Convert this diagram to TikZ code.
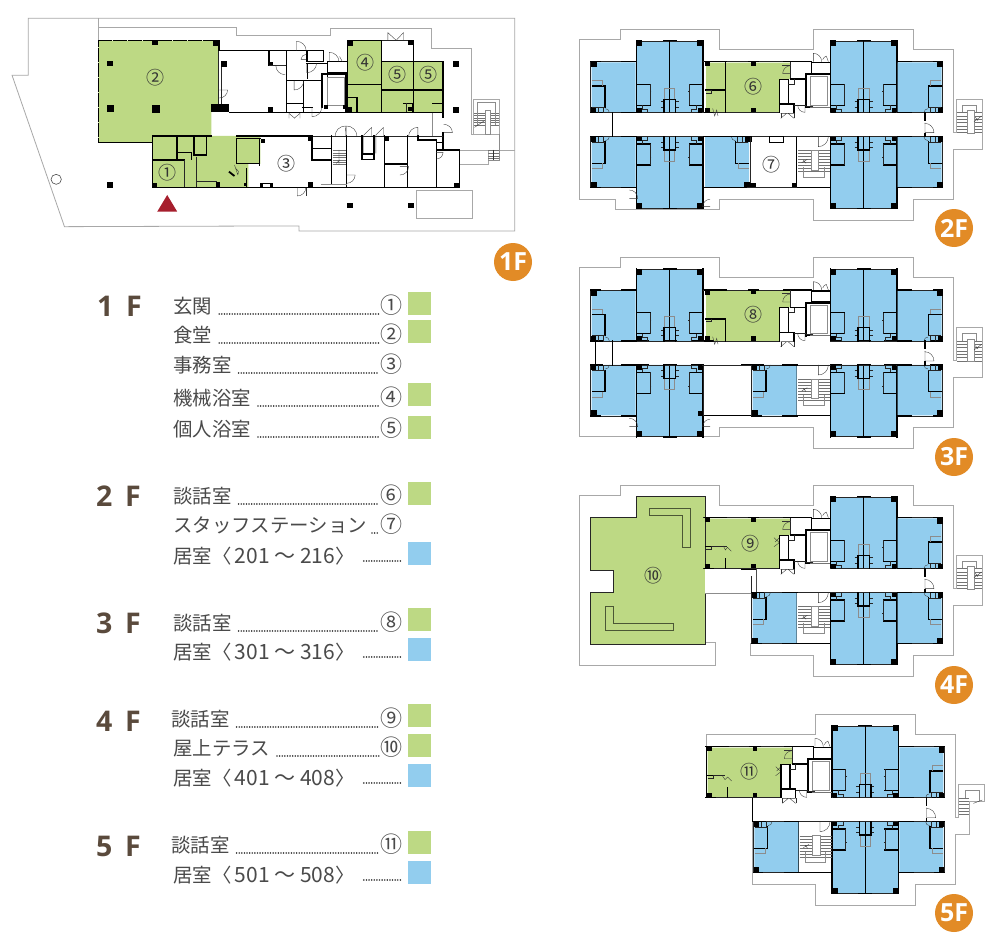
\documentclass[tikz,border=0pt]{standalone}
\usepackage{fontspec}
\newfontfamily\jp{Noto Sans CJK JP}
\newfontfamily\hd[WordSpace=1.7]{Open Sans}
\definecolor{gr}{HTML}{BDD984}
\definecolor{bl}{HTML}{92CDEE}
\definecolor{og}{HTML}{E28B26}
\definecolor{outl}{HTML}{A8A8A8}
\definecolor{brn}{HTML}{5A4A3C}
\definecolor{txt}{HTML}{4A4A4A}
\definecolor{entrymark}{HTML}{A61E2D}
\tikzset{
  wall/.style={line width=1.3pt,black,line cap=rect},
  wallb/.style={line width=1.9pt,black,line cap=rect},
  thinw/.style={line width=0.7pt,black!85},
  door/.style={line width=0.35pt,black!80},
  grayl/.style={line width=0.6pt,black!45},
  outline/.style={line width=0.8pt,outl},
  tread/.style={line width=0.35pt,black!55},
  lab/.style={font=\jp\fontsize{19.4}{22}\selectfont,text=txt,anchor=base west,inner sep=0pt},
  num/.style={font=\jp\fontsize{22}{24}\selectfont,text=txt,anchor=base,inner sep=0pt},
  pnum/.style={font=\jp\fontsize{18}{20}\selectfont,text=black!80,inner sep=0pt},
  hdg/.style={font=\hd\bfseries\fontsize{28.5}{30}\selectfont,text=brn,anchor=base west,inner sep=0pt},
  badge/.style={circle,fill=og,minimum size=38pt,inner sep=0pt,text=white,font=\hd\bfseries\fontsize{25}{27}\selectfont},
  swatchg/.style={fill=gr,minimum size=23pt,inner sep=0pt,anchor=north west},
  swatchb/.style={fill=bl,minimum size=23pt,inner sep=0pt,anchor=north west},
  leader/.style={line width=1.7pt,black!75,line cap=round,dash pattern=on 0.01pt off 2.6pt},
}
\newcommand\rng[2]{居室〈\hspace{3.5pt}{\fontsize{21}{22}\selectfont #1 ～ #2}\hspace{0pt}〉}
\newcommand\colm[3]{\fill[black] ({#1-#3/2},{#2-#3/2}) rectangle ({#1+#3/2},{#2+#3/2});}
\newcommand\dr[5]{\draw[door] (#1,#2)--++(#3:#4) arc (#3:#3+#5:#4);}
% two tall rooms, upper right quadrant, in 2F coordinates
\newcommand\tallpair{%
  \fill[bl] (782,75)--(795,64)--(967,64)--(980,75)--(980,278)--(782,278)--cycle;
  \draw[thinw] (781,63)--(981,63);
  \draw[wall] (781,62)--(781,278) (881,62)--(881,278) (981,62)--(981,278) (862,62)--(900,62);
  \draw[wall] (785,278)--(815,278) (862,278)--(900,278) (945,278)--(978,278);
  \draw[thinw] (781,278)--(981,278);
  \colm{790}{70}{18}\colm{972}{70}{18}\colm{790}{271}{14}\colm{972}{271}{14}
  \draw[wall] (784,193)--(822,193) (784,256)--(822,256) (978,193)--(940,193) (978,256)--(940,256);
  \draw[thinw] (822,193)--(822,256) (940,193)--(940,256);
  \draw[thinw] (800,256)--(800,268)--(815,268)--(815,278) (962,256)--(962,268)--(947,268)--(947,278);
  \draw[grayl] (866,238)--(866,205)--(897,205)--(897,238);
  \draw[wall] (864,238)--(898,238) (864,238)--(864,278) (898,238)--(898,278);
  \draw[thinw] (854,245)--(862,245) (854,262)--(862,262) (900,245)--(908,245) (900,262)--(908,262) (822,215)--(826,215) (936,215)--(940,215);
}
\newcommand\sideroom{%
  \fill[bl] (983,127)--(1100,127)--(1115,142)--(1115,278)--(983,278)--cycle;
  \draw[thinw] (982,125)--(1118,125)--(1118,278)--(982,278);
  \draw[wall] (982,125)--(1025,125) (1090,125)--(1118,125) (982,278)--(1025,278) (1082,278)--(1118,278);
  \colm{1109}{134}{17}\colm{1110}{270}{15}
  \draw[wall] (1075,198)--(1113,198) (1075,198)--(1075,262);
  \draw[thinw] (1075,262)--(1113,262) (1080,262)--(1080,278) (1095,262)--(1095,278);
  \draw[grayl] (1082,198)--(1082,182)--(1114,182);
  \draw[door] (1062,278) arc (180:270:12);
}
\newcommand\rightside{%
  \tallpair\sideroom
  \begin{scope}[cm={1,0,0,-1,(0,628)}]\tallpair\sideroom\end{scope}
}
\newcommand\leftside{%
  \begin{scope}[cm={-1,0,0,1,(1180,0)}]\tallpair\sideroom\end{scope}
  \begin{scope}[cm={-1,0,0,-1,(1180,628)}]\tallpair\sideroom\end{scope}
}
\newcommand\corecommon{%
  \draw[wall] (640,125)--(725,125) (728,128)--(780,128) (725,125)--(725,160);
  \draw[thinw] (662,125)--(662,175);
  \draw[wall] (662,177)--(708,177) (725,160)--(780,160);
  \draw[wallb] (708,163)--(780,163) (708,163)--(708,262);
  \draw[wall] (708,262)--(730,262) (628,178)--(655,178) (655,178)--(655,252) (628,178)--(628,278) (628,252)--(672,252)--(672,278);
  \draw[grayl] (722,170)--(772,170)--(772,255)--(722,255)--cycle;
  \draw[thinw] (655,192)--(672,192)--(672,178) (730,258)--(708,258) (672,255)--(708,255);
  \dr{730}{125}{-90}{25}{90}\dr{775}{125}{-110}{18}{-50}
  \dr{662}{135}{180}{25}{0}\draw[door] (662,137) arc (-90:-180:24) (638,161)--(662,161);
  \dr{632}{295}{-90}{15}{0}\dr{672}{295}{-90}{15}{0}
  \draw[door] (632,295)--(650,280) (672,295)--(654,280) (632,280)--(672,280);
  \dr{705}{255}{90}{22}{90}
  \draw[tread] (720,262)--(780,262);
}
\newcommand\stairs{%
  \draw[wall] (680,350)--(680,502) (680,502)--(780,502);
  \draw[thinw] (680,350)--(780,350);
  \foreach \yy in {392,401,...,455} {\draw[tread] (684,\yy)--(780,\yy);}
  \fill[white] (723,392) rectangle (745,450);
  \draw[grayl] (723,392)--(723,450)--(745,450)--(745,392)--cycle;
  \draw[grayl] (700,440)--(700,472)--(762,472)--(762,440);
  \dr{745}{350}{90}{30}{-90}
  \colm{672}{495}{14}
  \draw[door] (695,428)--(712,418) (700,420)--(708,430);
}
\newcommand\exstair{%
  \draw[outline] (1150,337)--(1160,337)--(1160,237)--(1238,237)--(1238,388)--(1150,388);
  \draw[grayl] (1178,278)--(1178,255)--(1218,255)--(1218,278);
  \foreach \yy in {278,288,...,338} {\draw[tread] (1162,\yy)--(1236,\yy);}
  \fill[white] (1192,272) rectangle (1212,340);
  \draw[grayl] (1192,272) rectangle (1212,340);
  \draw[door] (1212,305)--(1235,288) (1216,292)--(1224,302);
}
\newcommand\corrend{%
  \draw[wall] (1065,278)--(1065,300) (1065,340)--(1065,350);
  \draw[door] (1065,308)--(1065,338)--(1092,338) arc (0:-90:28);
}
\newcommand\greencore{%
  \fill[gr] (408,128)--(662,128)--(662,177)--(628,177)--(628,278)--(408,278)--cycle;
  \draw[thinw] (400,125)--(662,125) (400,278)--(628,278);
  \draw[wall] (403,125)--(470,125) (535,125)--(565,125) (640,125)--(662,125) (403,278)--(430,278);
  \colm{550}{130}{14}\colm{550}{270}{14}\colm{413}{132}{14}\colm{413}{271}{14}
}
\begin{document}
\begin{tikzpicture}[x=1pt,y=-1pt]
\useasboundingbox (0,0) rectangle (1000,944);
\fill[white] (0,0) rectangle (1000,944);

%=================== 1F =====================
\begin{scope}[x=0.3448pt,y=-0.33333pt]
\draw[outline] (82,55)--(1493,55)--(1493,693)--(867,693)--(867,678)--(768,678)--(187,680)--(35,226)--(82,226)--cycle;
\draw[outline] (285,55)--(285,122) (285,82)--(685,82)--(685,105)--(957,105)--(957,85)--(1250,85)--(1250,145)--(1367,145)--(1367,403)--(1373,403)--(1373,298)--(1447,298)--(1447,403)--(1375,403);
\draw[outline] (1335,450)--(1493,450) (1335,492)--(1415,492)--(1415,450);
\draw[outline] (1209,571) rectangle (1371,655);
\draw[line width=0.6pt,black!70] (163,538) circle (15);
\fill[gr] (285,122)--(633,122)--(633,312)--(613,312)--(613,408)--(755,408)--(755,492)--(720,492)--(720,562)--(443,562)--(443,427)--(285,427)--cycle;
\fill[gr] (1008,122)--(1107,122)--(1107,185)--(1285,185)--(1285,337)--(1008,337)--cycle;
\fill[entrymark] (485,585)--(456,635)--(514,635)--cycle;
% dining
\draw[wall,dash pattern=on 6pt off 1.5pt] (285,122)--(632,122) (285,122)--(285,427)--(335,427);
\draw[wall] (335,427)--(443,427) (635,122)--(635,152);
\draw[thinw] (632,152)--(632,312) (642,200)--(642,312);
\colm{319}{191}{16}\colm{321}{326}{22}\colm{453}{326}{24}\colm{450}{128}{16}\colm{628}{130}{18}\colm{650}{192}{16}\colm{786}{192}{14}\colm{785}{328}{14}
\fill[black] (613,313) rectangle (665,337);
\dr{636}{270}{0}{24}{90}
% rear block
\draw[wall] (638,152)--(938,152) (780,152)--(780,195) (830,152)--(830,337) (665,337)--(1285,337) (938,152)--(938,185) (890,152)--(890,185) (890,185)--(938,185) (890,190)--(950,190) (950,185)--(1005,185) (950,218)--(1005,218) (950,185)--(950,232) (892,190)--(892,235);
\draw[thinw] (780,195)--(830,195);
\draw[wallb] (935,222)--(1005,222) (935,222)--(935,320) (1003,222)--(1003,335);
\draw[grayl] (950,232)--(998,232)--(998,315)--(950,315)--cycle;
\draw[wall] (832,242)--(935,242) (880,242)--(880,337) (832,310)--(880,310) (878,322)--(905,322);
\dr{827}{197}{180}{27}{-90}\dr{860}{152}{-90}{28}{90}\dr{888}{178}{180}{15}{90}\dr{890}{190}{90}{28}{-90}\dr{853}{242}{90}{28}{-90}
\dr{955}{185}{-90}{28}{90}\draw[door] (993,185)--(985,170);
\dr{905}{322}{90}{28}{-90}
\draw[door] (838,355)--(838,340)--(855,355) (870,355)--(870,340)--(853,355);
\colm{945}{322}{12}\colm{1000}{322}{12}
% 4 5
\draw[wall] (1008,122)--(1008,337) (1008,122)--(1107,122) (1107,122)--(1107,337) (1200,122)--(1200,185) (1107,185)--(1285,185) (1200,185)--(1200,337) (1285,185)--(1285,337) (1008,253)--(1107,253) (1107,270)--(1285,270) (1008,292)--(1035,292)--(1035,337) (1170,310)--(1198,310)--(1198,335) (1255,310)--(1283,310)--(1283,335);
\draw[thinw] (1107,122)--(1200,122) (1178,310)--(1178,335);
\colm{1015}{130}{16}\colm{1192}{128}{16}\colm{1015}{328}{14}\colm{1190}{328}{12}
\draw[door] (1125,120)--(1125,98)--(1148,120) (1170,120)--(1170,98)--(1150,120);
% corridor right
\draw[grayl] (1253,340)--(1253,408);
\draw[wall] (1285,337)--(1285,352) (1285,398)--(1285,450);
\dr{1287}{398}{0}{25}{-90}
\colm{1323}{192}{18}\colm{1323}{329}{18}\colm{319}{555}{16}\colm{1015}{617}{16}\colm{1192}{617}{16}
% lower front line
\draw[wall] (443,408)--(613,408) (685,408)--(860,408) (443,408)--(443,562) (443,480)--(535,480) (513,408)--(513,475) (513,458)--(555,458) (555,458)--(555,478) (563,408)--(563,465) (598,408)--(598,465) (563,465)--(598,465);
\draw[thinw] (860,408)--(1285,408) (535,480)--(535,562) (570,470)--(570,562) (570,545)--(630,545);
\draw[wall] (443,562)--(1333,562);
\draw[wall] (685,415)--(755,415) (685,415)--(685,490) (685,490)--(752,490) (752,415)--(752,495) (715,505)--(715,562);
\colm{448}{556}{12}\colm{632}{553}{14}\colm{900}{555}{16}\colm{1323}{555}{14}\colm{1122}{416}{14}\colm{900}{415}{14}\colm{762}{424}{12}\colm{712}{553}{8}
\fill[black] (755,549) rectangle (792,562);\fill[white] (762,552) rectangle (782,562);
\draw[door] (690,525)--(680,495) (690,525) arc (30:-60:14);\draw[line width=1.8pt,black] (664,515)--(680,528);
\dr{862}{563}{90}{25}{-90}\dr{887}{563}{90}{25}{0}
\draw[wall] (905,408)--(905,480) (905,445)--(962,445) (905,480)--(962,480) (962,408)--(962,550) (1005,408)--(1005,562) (1050,408)--(1050,478) (1085,408)--(1085,478) (1050,462)--(1085,462) (1050,478)--(1085,478) (1115,408)--(1115,562) (1115,492)--(1182,492) (1182,408)--(1182,562) (1212,408)--(1212,420) (1212,420)--(1265,420) (1265,420)--(1265,562) (1265,450)--(1333,450) (1333,450)--(1333,562) (1265,428)--(1285,428) (905,408)--(860,408);
\foreach \yy in {452,459,...,495} {\draw[tread] (965,\yy)--(1004,\yy);}
\draw[grayl] (930,553)--(1005,553);
\draw[door] (975,490)--(985,480) (983,450)--(983,495);
\draw[door] (972,408) arc (180:270:30) --(1003,408);
\draw[door] (1005,378)--(1005,408) (1005,378) arc (-90:0:30);
\draw[door] (1078,382)--(1055,405)--(1055,460) (1078,382)--(1078,408);
\draw[door] (1112,382)--(1090,405)--(1090,460) (1112,382)--(1112,408);
\draw[door] (1212,382) arc (-90:-180:27) (1212,382)--(1212,408);
\dr{1160}{500}{0}{25}{90}\dr{1265}{457}{0}{20}{90}\dr{1005}{525}{0}{25}{90}
% exterior stair
\foreach \yy in {340,347,...,375} {\draw[tread] (1376,\yy)--(1446,\yy);}
\fill[white] (1408,332) rectangle (1422,402);
\draw[grayl] (1408,332) rectangle (1422,402);
\draw[grayl] (1385,375)--(1385,308)--(1437,308)--(1437,375);
\draw[door] (1376,382)--(1405,362);
\foreach \yy in {452,460,468,476} {\draw[tread] (1416,\yy)--(1446,\yy);}
\draw[door] (1431,450)--(1431,480);
\draw[grayl] (1447,403)--(1447,480)--(1415,480);
\node[pnum] (p1) at (487,518) {①};
\node[pnum] (p2) at (451,232) {②};
\node[pnum] (p3) at (832,490) {③};
\node[pnum] (p4) at (1060,189) {④};
\node[pnum] (p5a) at (1154,225) {⑤};
\node[pnum] (p5b) at (1243,225) {⑤};
\end{scope}

%=================== 2F =====================
\begin{scope}[shift={(570,20)},x=0.33333pt,y=-0.33333pt]
\draw[outline] (1150,337)--(1150,87)--(1030,87)--(1030,27)--(730,27)--(730,87)--(448,87)--(448,27)--(150,27)--(150,57)--(27,57)--(27,537)--(137,537)--(137,568)--(448,568)--(448,537)--(730,537)--(730,600)--(1030,600)--(1030,537)--(1150,537)--(1150,388);
\exstair
\rightside\leftside
\greencore
\draw[wall] (467,125)--(467,278) (408,210)--(467,210);
\draw[thinw] (408,212)--(425,212)--(425,220)--(408,220);
\draw[door] (428,265)--(434,288)--(440,270)--(444,288);
\corecommon
\corrend
\draw[wall] (128,278)--(128,350);
\stairs
% room 7 and its neighbour
\begin{scope}[cm={1,0,0,-1,(-578,628)}]\sideroom\end{scope}
\draw[wall] (400,350)--(545,350) (545,350)--(545,365) (400,502)--(530,502) (630,502)--(680,502);
\draw[thinw] (545,350)--(680,350) (540,365)--(540,495) (530,502)--(680,502);
\fill[white] (598,350) rectangle (640,368);
\draw[wall] (598,350) rectangle (640,368);
\fill[black] (522,490) rectangle (558,502);
\dr{178}{535}{0}{25}{-90}\dr{420}{560}{180}{22}{90}
\node[pnum] (p6) at (551,200) {⑥};
\node[pnum] (p7) at (605,435) {⑦};
\end{scope}

%=================== 3F =====================
\begin{scope}[shift={(570,248.33)},x=0.33333pt,y=-0.33333pt]
\draw[outline] (1150,337)--(1150,87)--(1030,87)--(1030,27)--(730,27)--(730,87)--(448,87)--(448,27)--(150,27)--(150,57)--(27,57)--(27,565)--(448,565)--(448,537)--(730,537)--(730,600)--(1030,600)--(1030,537)--(1150,537)--(1150,388);
\exstair
\rightside\leftside
\greencore
\draw[wall] (408,212)--(467,212)--(467,278);
\draw[thinw] (408,220)--(425,220)--(425,212);
\draw[door] (428,265)--(434,288)--(440,270)--(444,288);
\corecommon
\corrend
\draw[wall] (128,278)--(128,350) (77,278)--(77,350);
\stairs
\begin{scope}[cm={-1,0,0,-1,(1663,628)}]\sideroom\end{scope}
\draw[wall] (400,502)--(545,502) (515,350)--(545,350);
\draw[thinw] (400,350)--(545,350) (545,350)--(545,502) (400,350)--(400,502);
\colm{392}{495}{14}
\dr{178}{535}{0}{25}{-90}\dr{420}{535}{180}{22}{90}
\node[pnum] (p8) at (551,199) {⑧};
\end{scope}

%=================== 4F =====================
\begin{scope}[shift={(570,476)},x=0.33333pt,y=-0.33333pt]
\draw[outline] (1150,337)--(1150,87)--(1030,87)--(1030,27)--(730,27)--(730,87)--(448,87)--(448,27)--(150,27)--(150,57)--(27,57)--(27,569)--(437,569)--(437,500)--(405,500);
\draw[outline] (542,502)--(542,537)--(730,537)--(730,600)--(1030,600)--(1030,537)--(1150,537)--(1150,388);
\exstair
\rightside
\fill[gr] (62,124)--(200,124)--(200,62)--(405,62)--(405,504)--(62,504)--(62,349)--(130,349)--(130,284)--(62,284)--cycle;
\draw[thinw,line width=0.9pt] (62,124)--(200,124)--(200,62)--(405,62)--(405,504)--(62,504)--(62,349)--(130,349)--(130,284)--(62,284)--cycle;
\fill[white] (404,280) rectangle (406,350);
\draw[line width=0.6pt,black!60!gr] (238,97)--(362,97)--(362,214)--(338,214)--(338,117)--(238,117)--cycle;
\draw[line width=0.6pt,black!60!gr] (105,392)--(130,392)--(130,442)--(310,442)--(310,464)--(105,464)--cycle;
\greencore
\draw[wall] (408,212)--(425,212) (467,249)--(467,278) (515,280)--(560,280);
\draw[thinw] (408,220)--(425,220)--(425,212)--(470,212);
\draw[door] (460,210)--(466,222)--(472,214)--(484,226);
\draw[door] (612,185)--(628,200)--(612,212) (628,185)--(615,198);
\corecommon
\corrend
\draw[grayl,line width=1pt] (405,352)--(545,352);
\draw[thinw,line width=1pt,black!70] (560,280)--(560,352);\draw[thinw] (545,300)--(545,350);
\stairs
\begin{scope}[cm={-1,0,0,-1,(1663,628)}]\sideroom\end{scope}
\node[pnum] (p9) at (542,202) {⑨};
\node[pnum] (p10) at (250,298) {⑩};
\end{scope}

%=================== 5F =====================
\begin{scope}[shift={(571.67,705)},x=0.33333pt,y=-0.33333pt]
\draw[outline] (1150,337)--(1150,87)--(1030,87)--(1030,27)--(730,27)--(730,87)--(405,87)--(405,125);
\draw[outline] (543,278)--(543,537)--(730,537)--(730,600)--(1030,600)--(1030,537)--(1150,537)--(1150,388);
\draw[outline] (1150,337)--(1160,337)--(1160,237)--(1237,237)--(1237,288)--(1193,288)--(1193,388)--(1150,388);
\foreach \yy in {278,288,...,330} {\draw[tread] (1162,\yy)--(1193,\yy);}
\draw[grayl] (1180,278)--(1180,255)--(1222,255)--(1222,288);
\draw[door] (1205,295)--(1232,285);
\rightside
\greencore
\draw[wall] (405,125)--(405,278) (468,248)--(468,278) (408,212)--(425,212);
\draw[thinw] (408,220)--(425,220)--(425,212)--(460,212);
\draw[door] (452,212)--(460,224)--(468,216)--(480,228);
\draw[door] (612,185)--(628,200)--(612,212) (628,185)--(615,198);
\corecommon
\corrend
\draw[wall] (543,280)--(543,350);
\stairs
\begin{scope}[cm={-1,0,0,-1,(1663,628)}]\sideroom\end{scope}
\node[pnum] (p11) at (533,200) {⑪};
\end{scope}

%=================== badges =====================
\node[badge] (b1) at (513,262) {1F};
\node[badge] (b2) at (954,228) {2F};
\node[badge] (b3) at (954,457) {3F};
\node[badge] (b4) at (954,685) {4F};
\node[badge] (b5) at (954,913) {5F};

%=================== legend =====================
\node[hdg] (h1) at (97,316) {1 F};
\node[hdg] (h2) at (96,506) {2 F};
\node[hdg] (h3) at (96,633) {3 F};
\node[hdg] (h4) at (96,731) {4 F};
\node[hdg] (h5) at (96,856) {5 F};

\node[lab] (l1) at (173,313) {玄関};
\node[lab] (l2) at (173,342) {食堂};
\node[lab] (l3) at (173,372) {事務室};
\node[lab] (l4) at (173,405) {機械浴室};
\node[lab] (l5) at (173,436) {個人浴室};
\node[lab] (l6) at (173,503) {談話室};
\node[lab] (l7) at (173,532) {スタッフステーション};
\node[lab] (l8) at (173,563) {\rng{201}{216}};
\node[lab] (l9) at (173,630) {談話室};
\node[lab] (l10) at (173,659) {\rng{301}{316}};
\node[lab] (l11) at (171,726) {談話室};
\node[lab] (l12) at (173,755) {屋上テラス};
\node[lab] (l13) at (173,785) {\rng{401}{408}};
\node[lab] (l14) at (171,852) {談話室};
\node[lab] (l15) at (173,882) {\rng{501}{508}};

\node[num] (n1) at (391,313) {①};
\node[num] (n2) at (391,342) {②};
\node[num] (n3) at (391,372) {③};
\node[num] (n4) at (391,405) {④};
\node[num] (n5) at (391,436) {⑤};
\node[num] (n6) at (391,503) {⑥};
\node[num] (n7) at (391,532) {⑦};
\node[num] (n8) at (391,630) {⑧};
\node[num] (n9) at (391,726) {⑨};
\node[num] (n10) at (391,755) {⑩};
\node[num] (n11) at (391,852) {⑪};

\coordinate (e8) at (401,561);
\coordinate (e10) at (401,657);
\coordinate (e13) at (401,783);
\coordinate (e15) at (401,880);

\foreach \a/\b/\g in {l1/n1/7,l2/n2/7,l3/n3/7,l4/n4/7,l5/n5/7,l6/n6/7,l7/n7/5,l9/n8/7,l11/n9/7,l12/n10/7,l14/n11/7}
  {\draw[leader] ([xshift=\g pt,yshift=-1pt]\a.base east) -- ([xshift=-0.5pt,yshift=-1pt]\b.base west);}
\foreach \a/\b in {l8/e8,l10/e10,l13/e13,l15/e15}
  {\draw[leader] ([xshift=9pt,yshift=2pt]\a.base east) -- (\b);}

\node[swatchg] (s1) at (408,292) {};
\node[swatchg] (s2) at (408,320) {};
\node[swatchg] (s4) at (408,383) {};
\node[swatchg] (s5) at (408,415.5) {};
\node[swatchg] (s6) at (408,482) {};
\node[swatchb] (s8) at (408,542) {};
\node[swatchg] (s9) at (408,608) {};
\node[swatchb] (s10) at (408,638) {};
\node[swatchg] (s11) at (408,704) {};
\node[swatchg] (s12) at (408,734) {};
\node[swatchb] (s13) at (408,764) {};
\node[swatchg] (s14) at (408,831) {};
\node[swatchb] (s15) at (408,861) {};
\end{tikzpicture}
\end{document}
